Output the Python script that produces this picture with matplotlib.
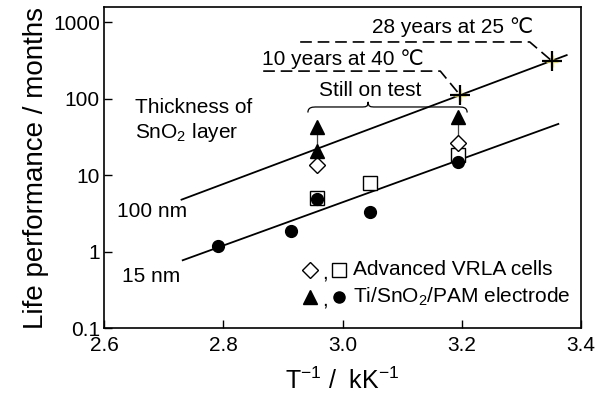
import numpy as np
import matplotlib
matplotlib.use('Agg')
import matplotlib.pyplot as plt
from matplotlib.path import Path
from matplotlib.patches import PathPatch

plt.rcParams['font.family'] = ['Liberation Sans', 'DejaVu Sans']
plt.rcParams['mathtext.fontset'] = 'custom'
plt.rcParams['mathtext.rm'] = 'Liberation Sans'
plt.rcParams['mathtext.it'] = 'Liberation Sans'

# data (x in kK^-1, y in months)
circle_x = [2.791, 2.913, 2.957, 3.046, 3.193]
circle_y = [1.17, 1.88, 4.9, 3.3, 14.7]
square_x = [2.957, 3.046, 3.193]
square_y = [5.0, 7.9, 18.5]
diamond_x = [2.957, 3.193]
diamond_y = [13.4, 26.7]
triangle_x = [2.957, 2.957, 3.193]
triangle_y = [20.4, 43, 58]
cross_x = [3.197, 3.351]
cross_y = [112, 313]

# fitted lines
line100_x = [2.730, 3.376]
line100_y = [4.78, 372]
line15_x = [2.732, 3.362]
line15_y = [0.77, 46.8]

# arrows "still on test": (x, y start, y end)
arrow_x = [2.957, 3.193]
arrow_y0 = [20.4, 26.7]
arrow_y1 = [43, 58]

fs = 15

fig = plt.figure(figsize=(6.03, 4.01), dpi=100)
ax = fig.add_axes([0.1725, 0.182, 0.791, 0.8005])
ax.set_yscale('log')
ax.set_xlim(2.6, 3.4)
ax.set_ylim(0.1, 1585)

ax.plot(line100_x, line100_y, color='black', lw=1.3)
ax.plot(line15_x, line15_y, color='black', lw=1.3)

for x, y0, y1 in zip(arrow_x, arrow_y0, arrow_y1):
    ax.plot([x, x], [y0, y1], color='#444444', lw=0.9)

ax.plot(square_x, square_y, 's', ms=10, mfc='white', mec='black', mew=1.0)
ax.plot(circle_x, circle_y, 'o', ms=8.5, color='black')
ax.plot(diamond_x, diamond_y, 'D', ms=8, mfc='white', mec='black', mew=1.0)
ax.plot(triangle_x, triangle_y, '^', ms=9.5, color='black')
ax.plot(cross_x, cross_y, '+', ms=9, mew=2.5, color='#f2e86a', alpha=0.8)
ax.plot(cross_x, cross_y, '+', ms=15, mew=1.6, color='black')

# dashed leaders
ax.plot([2.929, 3.314, cross_x[1]], [553, 553, cross_y[1]], color='black',
        lw=1.2, ls=(0, (7, 3.5)))
ax.plot([2.867, 3.164, cross_x[0]], [230, 230, cross_y[0]], color='black',
        lw=1.2, ls=(0, (7, 3.5)))
ax.text(3.184, 861, '28 years at 25 \u2103', fontsize=fs, ha='center', va='center')
ax.text(3.001, 330, '10 years at 40 \u2103', fontsize=fs, ha='center', va='center')

# brace
bx0, bx1, bxm = 2.942, 3.209, 3.043
yb, yl, yp = 78, 66, 91
verts = [(bx0, yl), (bx0, yb), (bx0 + 0.008, yb), (bx0 + 0.015, yb),
         (bxm - 0.012, yb),
         (bxm - 0.004, yb), (bxm, yb), (bxm, yp),
         (bxm, yb), (bxm + 0.004, yb), (bxm + 0.012, yb),
         (bx1 - 0.015, yb),
         (bx1 - 0.008, yb), (bx1, yb), (bx1, yl)]
codes = [Path.MOVETO, Path.CURVE4, Path.CURVE4, Path.CURVE4,
         Path.LINETO,
         Path.CURVE4, Path.CURVE4, Path.CURVE4,
         Path.CURVE4, Path.CURVE4, Path.CURVE4,
         Path.LINETO,
         Path.CURVE4, Path.CURVE4, Path.CURVE4]
ax.add_patch(PathPatch(Path(verts, codes), fill=False, lw=0.9, color='black'))
ax.text(3.046, 130, 'Still on test', fontsize=fs, ha='center', va='center')

ax.text(2.652, 75.7, 'Thickness of', fontsize=fs, ha='left', va='center')
ax.text(2.652, 35.7, 'SnO$_2$ layer', fontsize=fs, ha='left', va='center')
ax.text(2.622, 3.33, '100 nm', fontsize=fs, ha='left', va='center')
ax.text(2.630, 0.473, '15 nm', fontsize=fs, ha='left', va='center')

# legend drawn by hand
tr = ax.transAxes
ax.plot(0.432, 0.181, 'D', ms=8, mfc='white', mec='black', mew=1.0, transform=tr)
ax.plot(0.493, 0.181, 's', ms=9.5, mfc='white', mec='black', mew=1.0, transform=tr)
ax.plot(0.432, 0.097, '^', ms=9.5, color='black', transform=tr)
ax.plot(0.493, 0.097, 'o', ms=8, color='black', transform=tr)
ax.text(0.463, 0.17, ',', fontsize=fs, ha='center', va='center', transform=tr)
ax.text(0.463, 0.086, ',', fontsize=fs, ha='center', va='center', transform=tr)
ax.text(0.522, 0.181, 'Advanced VRLA cells', fontsize=fs, ha='left', va='center', transform=tr)
ax.text(0.522, 0.097, 'Ti/SnO$_2$/PAM electrode', fontsize=fs, ha='left', va='center', transform=tr)

ax.set_xticks([2.6, 2.8, 3.0, 3.2, 3.4])
ax.set_xticklabels(['2.6', '2.8', '3.0', '3.2', '3.4'])
ax.set_yticks([0.1, 1, 10, 100, 1000])
ax.set_yticklabels(['0.1', '1', '10', '100', '1000'])
ax.minorticks_off()
ax.tick_params(direction='in', length=6, width=1, labelsize=fs, pad=3)
ax.tick_params(axis='x', pad=6)
for s in ax.spines.values():
    s.set_linewidth(1.2)

ax.set_xlabel('T$^{-1}$ /  kK$^{-1}$', fontsize=18, labelpad=9)
ax.set_ylabel('Life performance / months', fontsize=20, labelpad=3)

fig.savefig('out.png', dpi=100)
